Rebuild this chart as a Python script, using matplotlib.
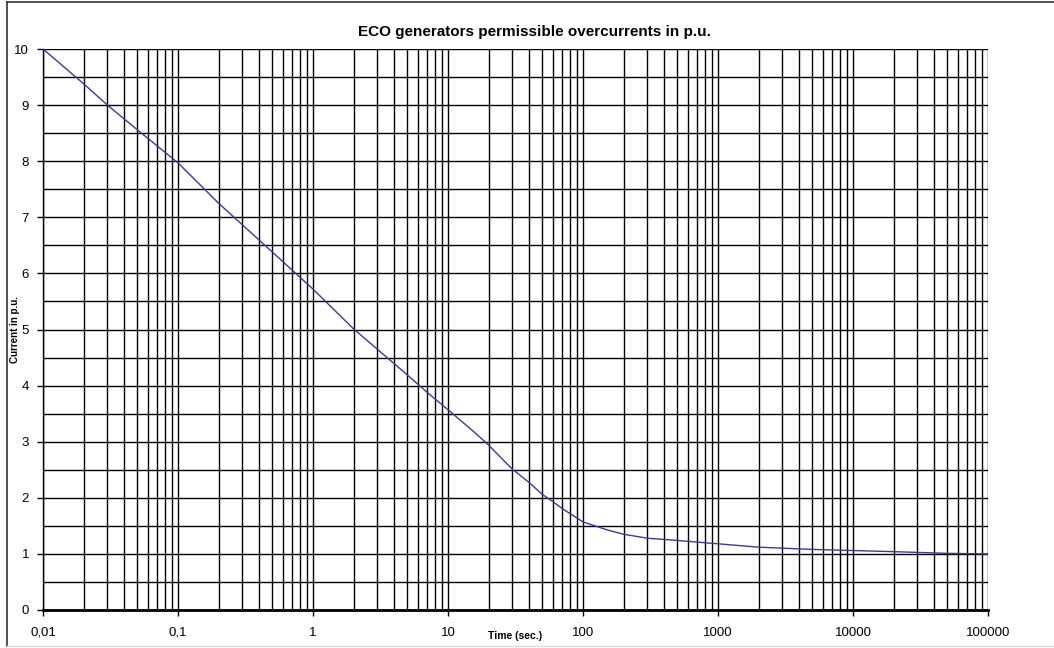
import matplotlib
matplotlib.use("Agg")
import matplotlib.pyplot as plt
from matplotlib.lines import Line2D
from matplotlib.ticker import FixedLocator, NullFormatter, FixedFormatter

plt.rcParams['font.family'] = ['Liberation Sans', 'DejaVu Sans']

# Data
time_s = [0.01, 0.02, 0.03, 0.05, 0.1, 0.2, 0.5, 1, 2, 5, 7, 10, 15, 20, 25, 30, 40,
          50, 60, 70, 80, 100, 150, 200, 300, 500, 1000, 2000, 5000, 10000, 20000,
          50000, 100000]
current_pu = [10.0, 9.38, 9.0, 8.56, 7.97, 7.25, 6.38, 5.72, 5.01, 4.19, 3.88, 3.57,
              3.21, 2.94, 2.70, 2.51, 2.27, 2.06, 1.93, 1.81, 1.72, 1.57, 1.43, 1.35,
              1.28, 1.24, 1.18, 1.12, 1.08, 1.06, 1.04, 1.01, 1.0]

x_ticks = [0.01, 0.1, 1, 10, 100, 1000, 10000, 100000]
x_tick_labels = ["0,01", "0,1", "1", "10", "100", "1000", "10000", "100000"]
y_ticks = [0, 1, 2, 3, 4, 5, 6, 7, 8, 9, 10]
y_tick_labels = [str(v) for v in y_ticks]

fig = plt.figure(figsize=(10.54, 6.48), dpi=100)
ax = fig.add_axes([43/1054, 1 - 610/648, (988 - 43)/1054, (610 - 49)/648])

ax.set_xscale('log')
ax.set_xlim(0.01, 100000)
ax.set_ylim(0, 10)

ax.xaxis.set_major_locator(FixedLocator(x_ticks))
ax.xaxis.set_major_formatter(FixedFormatter(x_tick_labels))
minor_x = [m * d for d in x_ticks[:-1] for m in range(2, 10)]
ax.xaxis.set_minor_locator(FixedLocator(minor_x))
ax.xaxis.set_minor_formatter(NullFormatter())
ax.yaxis.set_major_locator(FixedLocator(y_ticks))
ax.yaxis.set_major_formatter(FixedFormatter(y_tick_labels))
ax.yaxis.set_minor_locator(FixedLocator([v + 0.5 for v in y_ticks[:-1]]))

ax.grid(True, which='both', color='black', linewidth=1.0)
ax.set_axisbelow(True)

ax.tick_params(axis='both', which='major', direction='out', length=4, width=1,
               colors='black', labelsize=9.5, pad=6)
ax.tick_params(axis='both', which='minor', length=0)
ax.tick_params(axis='x', which='major', pad=8)

for s in ['top', 'right']:
    ax.spines[s].set_visible(False)
ax.spines['left'].set_linewidth(1.0)
ax.spines['bottom'].set_linewidth(2.0)

ax.plot(time_s, current_pu, color='#3a3a9c', linewidth=1.0, zorder=3)

fig.text(534.5/1054, 1 - 32/648, "ECO generators permissible overcurrents in p.u.",
         fontsize=11, fontweight='bold', ha='center', va='center')
ax.set_xlabel("Time (sec.)", fontsize=7.5, fontweight='bold')
ax.xaxis.set_label_coords(0.5, -0.037)
ax.set_ylabel("Current in p.u.", fontsize=7, fontweight='bold')
ax.yaxis.set_label_coords(-0.0245, 0.5)

# outer frame
fig.add_artist(Line2D([7/1054, 7/1054], [1 - 646/648, 1 - 2/648], transform=fig.transFigure,
                      color='#333333', linewidth=1.2))
fig.add_artist(Line2D([7/1054, 1.0], [1 - 2/648, 1 - 2/648], transform=fig.transFigure,
                      color='#333333', linewidth=1.2))
fig.add_artist(Line2D([7/1054, 1.0], [1 - 646/648, 1 - 646/648], transform=fig.transFigure,
                      color='#dddddd', linewidth=1.0))

fig.savefig("out.png", dpi=100)
